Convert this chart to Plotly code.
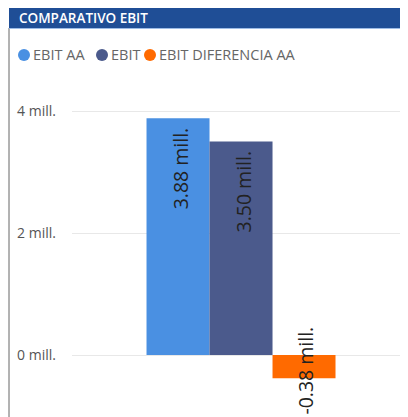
import plotly.graph_objects as go

# ---- data ----
series = ["EBIT AA", "EBIT", "EBIT DIFERENCIA AA"]
values = [3.88, 3.50, -0.38]
colors = ["#4A90E2", "#4B5A8C", "#FF6A00"]
tick_vals = [0, 2, 4]
tick_text = ["0 mill.", "2 mill.", "4 mill."]
title = "COMPARATIVO EBIT"

# the page body adds an 8px margin, so the figure is laid out 8px in from the window
OFF = 8
W, H = 408 - OFF, 417 - OFF
ML, MR, MT, MB = 72 - OFF, 3, 93 - OFF, 1
PW = W - ML - MR
PH = H - MT - MB

def px2x(px):
    # px in window coordinates
    return (px - OFF - ML) / PW

def px2y(py):
    return (H - MB - (py - OFF)) / PH

FONT = "Open Sans"

fig = go.Figure()
for i, (s, v, c) in enumerate(zip(series, values, colors)):
    fig.add_trace(go.Bar(x=[i], y=[v], width=1, name=s, marker_color=c,
                         marker_line_width=0, showlegend=False,
                         hovertemplate=s + ": %{y:.2f} mill.<extra></extra>"))

annotations = []
for i, v in enumerate(values):
    lab = f"{v:.2f} mill."
    if v >= 0:
        annotations.append(dict(x=i, y=v, xref="x", yref="y", text=lab,
                                textangle=-90, showarrow=False, yanchor="top",
                                xanchor="center", yshift=-7, xshift=2,
                                font=dict(family=FONT, size=19.5, color="#222222")))
    else:
        annotations.append(dict(x=i, y=v / 2, xref="x", yref="y", text=lab,
                                textangle=-90, showarrow=False, yanchor="middle",
                                xanchor="center", yshift=-4, xshift=2,
                                font=dict(family=FONT, size=19.5, color="#222222")))

# header title
annotations.append(dict(x=px2x(17), y=px2y(18), xref="paper", yref="paper",
                        text=title, showarrow=False, xanchor="left", yanchor="middle",
                        font=dict(family=FONT, size=13.5, color="white", weight=600)))

shapes = [
    dict(type="rect", xref="paper", yref="paper", x0=px2x(9), x1=px2x(407),
         y0=px2y(28), y1=px2y(7), fillcolor="#1F4E96", line_width=0, layer="above"),
    dict(type="line", xref="paper", yref="paper", x0=px2x(9), x1=px2x(9),
         y0=px2y(417), y1=px2y(28), line=dict(color="#666666", width=1)),
    dict(type="line", xref="paper", yref="paper", x0=px2x(9), x1=px2x(407),
         y0=px2y(28.5), y1=px2y(28.5), line=dict(color="#9DBCE6", width=1)),
]

# legend (drawn manually to mirror the compact Power BI legend)
leg_cx = [24, 102, 150]
leg_tx = [31, 109, 157]
for s, c, cx, tx in zip(series, colors, leg_cx, leg_tx):
    shapes.append(dict(type="circle", xref="paper", yref="paper",
                       x0=px2x(cx - 6), x1=px2x(cx + 6), y0=px2y(61), y1=px2y(49),
                       fillcolor=c, line_width=0))
    annotations.append(dict(x=px2x(tx), y=px2y(55), xref="paper", yref="paper",
                            text=s, showarrow=False, xanchor="left", yanchor="middle",
                            font=dict(family=FONT, size=14.5, color="#666666")))

fig.update_layout(
    width=W, height=H,
    margin=dict(l=ML, r=MR, t=MT, b=MB, pad=0),
    paper_bgcolor="white", plot_bgcolor="white",
    barmode="overlay",
    showlegend=False,
    font=dict(family=FONT),
    xaxis=dict(range=[-1.683, 3.603], showgrid=False, zeroline=False,
               showticklabels=False, fixedrange=True),
    yaxis=dict(range=[-1.0, 4.295], tickvals=tick_vals, ticktext=tick_text,
               showgrid=True, gridcolor="#E8E8E8", gridwidth=1,
               zeroline=True, zerolinecolor="#E8E8E8", zerolinewidth=1,
               ticklabelstandoff=15,
               tickfont=dict(family=FONT, size=14, color="#555555")),
    annotations=annotations,
    shapes=shapes,
)

fig.write_html("out.html")
